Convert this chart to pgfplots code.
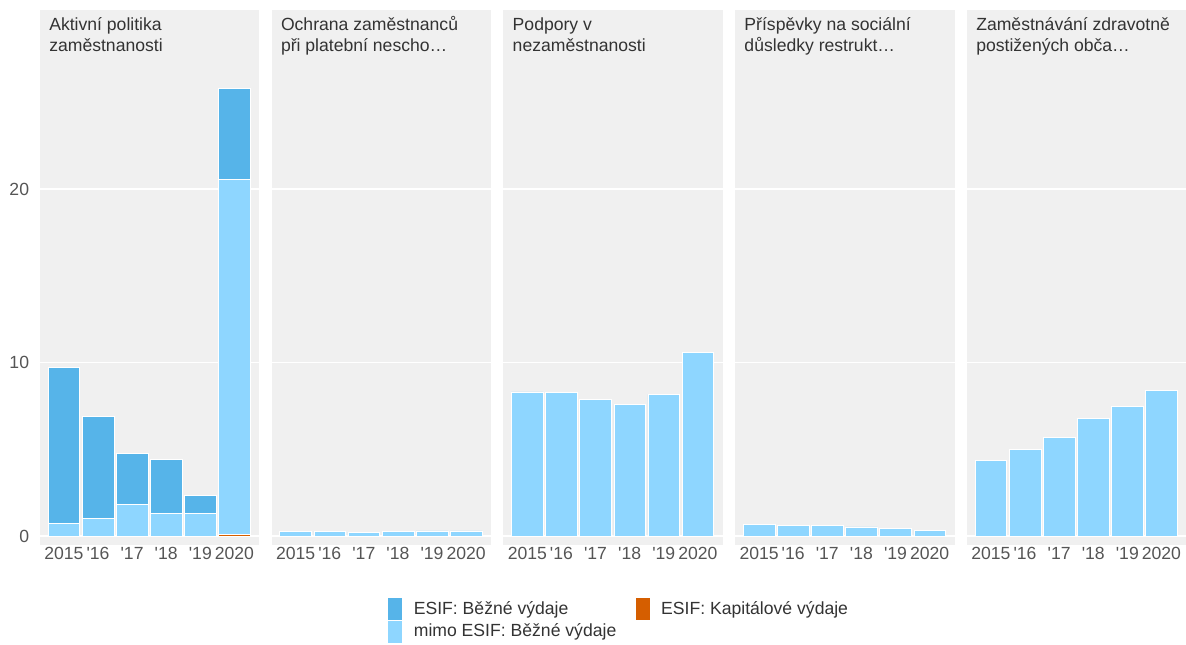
\documentclass[border=0pt]{standalone}
\usepackage{fontspec}
\setmainfont{Liberation Sans}
\newfontfamily\lsans{Liberation Sans}
\usepackage{pgfplots}
\pgfplotsset{compat=1.18}
\definecolor{esifb}{HTML}{56B4E9}
\definecolor{esifk}{HTML}{D55E00}
\definecolor{mimo}{HTML}{8ED6FF}
\definecolor{panelbg}{HTML}{F0F0F0}
\definecolor{tickgray}{HTML}{555555}
\definecolor{striptext}{HTML}{333333}
\newcommand{\chfont}{\lsans\fontsize{13.2}{16}\selectfont}
\tikzset{strip/.style={anchor=base west, font=\chfont, text=striptext, inner sep=0pt}}
\pgfplotsset{
  panel/.style={
    scale only axis, width=164.5pt, height=401.25pt,
    xmin=-0.7, xmax=5.73, ymin=-0.52, ymax=30.32,
    axis background/.style={fill=panelbg},
    axis line style={draw=none},
    major tick style={draw=none},
    minor tick style={draw=none},
    ybar stacked, bar width=0.93,
    xtick={0,...,5}, xticklabels={2015,'16,'17,'18,'19,2020},
    ytick={0,10,20}, yticklabels={},
    ymajorgrids, grid style={white, line width=0.9pt},
    xticklabel style={font=\chfont, text=tickgray, anchor=north, inner sep=0pt, yshift=-1.3pt},
    yticklabel style={font=\chfont, text=tickgray, anchor=east, inner sep=0pt, xshift=-8pt},
    clip=false,
  },
}
\begin{document}
\begin{tikzpicture}
\path[use as bounding box] (0,0) rectangle (889.5pt,483pt);
% Panel 1
\begin{axis}[panel, at={(30pt,74.25pt)}, anchor=south west, yticklabels={0,10,20}]
\addplot[fill=esifk, draw=none, forget plot] coordinates {(0,0) (1,0) (2,0) (3,0) (4,0) (5,0.08)};
\addplot[fill=mimo, draw=white, line width=0.4pt, forget plot] coordinates {(0,0.73) (1,1.03) (2,1.82) (3,1.29) (4,1.29) (5,20.47)};
\addplot[fill=esifb, draw=white, line width=0.4pt, forget plot] coordinates {(0,9.0) (1,5.85) (2,2.95) (3,3.12) (4,1.05) (5,5.25)};
\node[strip] at (rel axis cs:0,1) [xshift=6.75pt, yshift=-15.4pt] {Aktivní politika};
\node[strip] at (rel axis cs:0,1) [xshift=6.75pt, yshift=-31.5pt] {zaměstnanosti};
\end{axis}
% Panel 2
\begin{axis}[panel, at={(203.8pt,74.25pt)}, anchor=south west]
\addplot[fill=mimo, draw=white, line width=0.4pt, forget plot] coordinates {(0,0.28) (1,0.28) (2,0.22) (3,0.27) (4,0.30) (5,0.30)};
\node[strip] at (rel axis cs:0,1) [xshift=6.75pt, yshift=-15.4pt] {Ochrana zaměstnanců};
\node[strip] at (rel axis cs:0,1) [xshift=6.75pt, yshift=-31.5pt] {při platební nescho…};
\end{axis}
% Panel 3
\begin{axis}[panel, at={(377.6pt,74.25pt)}, anchor=south west,
  legend style={at={(-0.525,-0.099)}, anchor=north west, draw=none, fill=none,
    inner sep=0pt, outer sep=0pt, row sep=0.75pt,
    nodes={inner sep=0pt, font=\chfont, text=striptext},
    /tikz/every odd column/.append style={column sep=9pt},
    /tikz/every even column/.append style={column sep=14.5pt}},
  legend columns=2, transpose legend, legend cell align=left]
\addplot[fill=mimo, draw=white, line width=0.4pt, forget plot] coordinates {(0,8.30) (1,8.27) (2,7.87) (3,7.58) (4,8.16) (5,10.60)};
\node[strip] at (rel axis cs:0,1) [xshift=6.75pt, yshift=-15.4pt] {Podpory v};
\node[strip] at (rel axis cs:0,1) [xshift=6.75pt, yshift=-31.5pt] {nezaměstnanosti};
\addlegendimage{legend image code/.code={\fill[esifb] (0pt,-7.875pt) rectangle (9.75pt,7.875pt);}}
\addlegendentry{ESIF: Běžné výdaje}
\addlegendimage{legend image code/.code={\fill[mimo] (0pt,-7.875pt) rectangle (9.75pt,7.875pt);}}
\addlegendentry{mimo ESIF: Běžné výdaje}
\addlegendimage{legend image code/.code={\fill[esifk] (0pt,-7.875pt) rectangle (9.75pt,7.875pt);}}
\addlegendentry{ESIF: Kapitálové výdaje}
\end{axis}
% Panel 4
\begin{axis}[panel, at={(551.4pt,74.25pt)}, anchor=south west]
\addplot[fill=mimo, draw=white, line width=0.4pt, forget plot] coordinates {(0,0.67) (1,0.60) (2,0.60) (3,0.53) (4,0.44) (5,0.34)};
\node[strip] at (rel axis cs:0,1) [xshift=6.75pt, yshift=-15.4pt] {Příspěvky na sociální};
\node[strip] at (rel axis cs:0,1) [xshift=6.75pt, yshift=-31.5pt] {důsledky restrukt…};
\end{axis}
% Panel 5
\begin{axis}[panel, at={(725.25pt,74.25pt)}, anchor=south west]
\addplot[fill=mimo, draw=white, line width=0.4pt, forget plot] coordinates {(0,4.36) (1,4.97) (2,5.70) (3,6.78) (4,7.45) (5,8.41)};
\node[strip] at (rel axis cs:0,1) [xshift=6.75pt, yshift=-15.4pt] {Zaměstnávání zdravotně};
\node[strip] at (rel axis cs:0,1) [xshift=6.75pt, yshift=-31.5pt] {postižených obča…};
\end{axis}
\end{tikzpicture}
\end{document}
